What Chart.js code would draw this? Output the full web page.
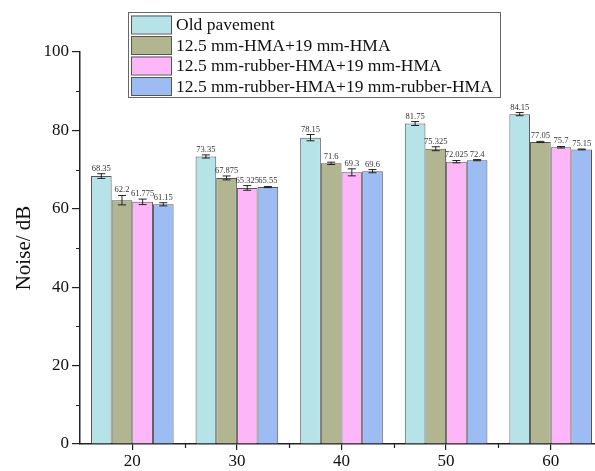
<!DOCTYPE html>
<html>
<head>
<meta charset="utf-8">
<script src="https://cdn.jsdelivr.net/npm/chart.js@4"></script>
<style>
  html, body { margin: 0; padding: 0; overflow: hidden; background: #fff; }
  #wrap { width: 605px; height: 471px; }
</style>
</head>
<body>
<div id="wrap"><canvas id="noiseChart"></canvas></div>
<script>
// Speeds (x categories)
const speeds = ["20", "30", "40", "50", "60"];

const seriesNames = [
  "Old pavement",
  "12.5 mm-HMA+19 mm-HMA",
  "12.5 mm-rubber-HMA+19 mm-HMA",
  "12.5 mm-rubber-HMA+19 mm-rubber-HMA",
];

const oldPavement = [68.35, 73.35, 78.15, 81.75, 84.15];
const hmaHma = [62.2, 67.875, 71.6, 75.325, 77.05];
const rubberHma = [61.775, 65.325, 69.3, 72.025, 75.7];
const rubberRubber = [61.15, 65.55, 69.6, 72.4, 75.15];

// error bar half-lengths (estimated)
const oldErr = [0.6, 0.4, 0.8, 0.5, 0.4];
const hmaErr = [1.2, 0.5, 0.3, 0.5, 0.15];
const rubberErr = [0.7, 0.6, 0.9, 0.3, 0.2];
const rrErr = [0.4, 0.15, 0.4, 0.15, 0.1];

const yTicks = [0, 20, 40, 60, 80, 100];

const fills = ["#b5e3e8", "#b1b690", "#fdb7f8", "#9cbcf3"];
const serif = "'Liberation Serif', 'DejaVu Serif', serif";

// error bars + value labels above every bar
const errorBarPlugin = {
  id: "errorBars",
  afterDatasetsDraw(chart) {
    const ctx = chart.ctx;
    const y = chart.scales.y;
    chart.data.datasets.forEach((ds, i) => {
      const meta = chart.getDatasetMeta(i);
      meta.data.forEach((bar, j) => {
        const v = ds.data[j];
        const e = ds.errors[j];
        const top = y.getPixelForValue(v + e);
        const bot = y.getPixelForValue(v - e);
        const x = bar.x;
        ctx.save();
        ctx.strokeStyle = "#222";
        ctx.lineWidth = 1;
        ctx.beginPath();
        ctx.moveTo(x, top);
        ctx.lineTo(x, bot);
        ctx.moveTo(x - 4, top);
        ctx.lineTo(x + 4, top);
        ctx.moveTo(x - 4, bot);
        ctx.lineTo(x + 4, bot);
        ctx.stroke();
        ctx.fillStyle = "#333";
        ctx.font = "8.5px " + serif;
        ctx.textAlign = "center";
        ctx.textBaseline = "bottom";
        ctx.fillText(String(v), x, top - 1);
        ctx.restore();
      });
    });
  },
};

// minor ticks, y title and the boxed legend
const decorPlugin = {
  id: "decor",
  afterDraw(chart) {
    const ctx = chart.ctx;
    const xs = chart.scales.x;
    const ys = chart.scales.y;
    const area = chart.chartArea;
    ctx.save();
    ctx.strokeStyle = "#222";
    ctx.lineWidth = 1.2;
    ctx.beginPath();
    for (let v = 10; v < 100; v += 20) {
      const py = Math.round(ys.getPixelForValue(v)) + 0.5;
      ctx.moveTo(area.left - 4, py);
      ctx.lineTo(area.left, py);
    }
    const half = (xs.getPixelForValue(1) - xs.getPixelForValue(0)) / 2;
    for (let k = 0; k < speeds.length; k++) {
      const px = Math.round(xs.getPixelForValue(k) + half) + 0.5;
      ctx.moveTo(px, area.bottom);
      ctx.lineTo(px, area.bottom + 4);
    }
    ctx.stroke();

    // y title
    ctx.fillStyle = "#111";
    ctx.font = "21px " + serif;
    ctx.translate(24, (area.top + area.bottom) / 2);
    ctx.rotate(-Math.PI / 2);
    ctx.textAlign = "center";
    ctx.textBaseline = "middle";
    ctx.fillText("Noise/ dB", 0, 0);
    ctx.restore();

    // legend
    ctx.save();
    const lx = 128, ly = 12, lw = 372, lh = 85;
    ctx.fillStyle = "#fff";
    ctx.fillRect(lx, ly, lw, lh);
    ctx.strokeStyle = "#666";
    ctx.lineWidth = 1;
    ctx.strokeRect(lx + 0.5, ly + 0.5, lw, lh);
    chart.data.datasets.forEach((ds, i) => {
      const ry = ly + 3.5 + i * 20.5;
      ctx.fillStyle = ds.backgroundColor;
      ctx.fillRect(lx + 3, ry, 40, 18);
      ctx.strokeStyle = "#555";
      ctx.strokeRect(lx + 3.5, ry + 0.5, 40, 18);
      ctx.fillStyle = "#111";
      ctx.font = "17.5px " + serif;
      ctx.textAlign = "left";
      ctx.textBaseline = "middle";
      ctx.fillText(ds.label, lx + 48, ry + 10);
    });
    ctx.restore();
  },
};

const seriesValues = [oldPavement, hmaHma, rubberHma, rubberRubber];
const seriesErrors = [oldErr, hmaErr, rubberErr, rrErr];

const datasets = seriesNames.map((name, i) => ({
  label: name,
  data: seriesValues[i],
  errors: seriesErrors[i],
  backgroundColor: fills[i],
  borderColor: "#555",
  borderWidth: 1,
  borderSkipped: "bottom",
  categoryPercentage: 0.79,
  barPercentage: 1.0,
}));

new Chart(document.getElementById("noiseChart"), {
  type: "bar",
  data: { labels: speeds, datasets: datasets },
  plugins: [errorBarPlugin, decorPlugin],
  options: {
    responsive: true,
    maintainAspectRatio: false,
    animation: false,
    layout: { padding: { top: 52, right: 2, left: 0, bottom: 0 } },
    plugins: {
      legend: { display: false },
      tooltip: { enabled: false },
    },
    scales: {
      x: {
        grid: {
          display: true,
          drawOnChartArea: false,
          offset: false,
          tickLength: 6,
          color: "#222",
          lineWidth: 1.2,
        },
        border: { color: "#222", width: 1.5 },
        ticks: {
          color: "#111",
          font: { family: serif, size: 17 },
          padding: 1,
        },
        afterFit(scale) {
          scale.height = 27;
        },
      },
      y: {
        min: 0,
        max: 100,
        afterBuildTicks(scale) {
          scale.ticks = yTicks.map((v) => ({ value: v }));
        },
        grid: {
          display: true,
          drawOnChartArea: false,
          tickLength: 8,
          color: "#222",
          lineWidth: 1.2,
        },
        border: { color: "#222", width: 1.5 },
        ticks: {
          color: "#111",
          font: { family: serif, size: 17 },
          padding: 3,
        },
        afterFit(scale) {
          scale.width = 80;
        },
      },
    },
  },
});
</script>
</body>
</html>
